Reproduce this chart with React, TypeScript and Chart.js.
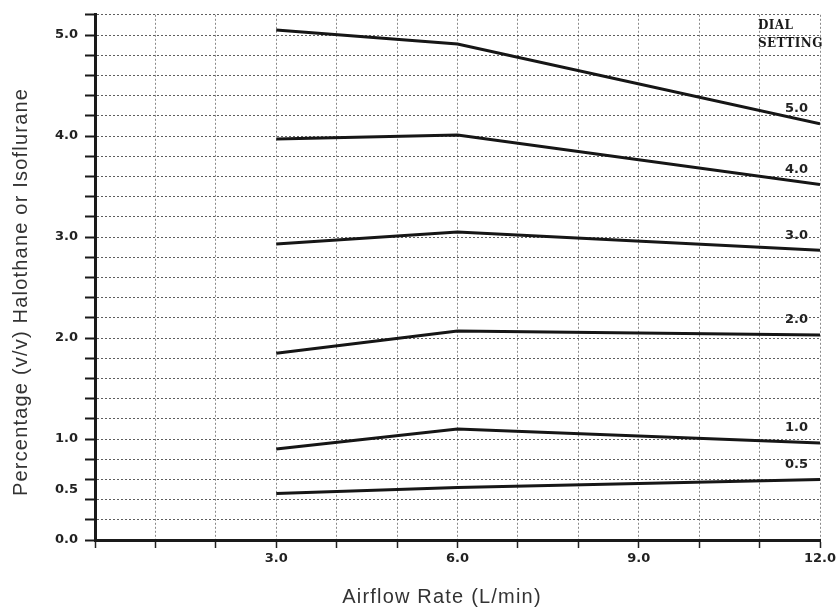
import React, { useEffect, useRef } from "react";
import { Chart, registerables } from "chart.js";

Chart.register(...registerables);

// Airflow rates (L/min) at which each dial-setting curve is read
const airflow = [3, 6, 12];

// Delivered concentration (% v/v) for each dial setting
const dialSettings = ["5.0", "4.0", "3.0", "2.0", "1.0", "0.5"];
const dial50 = [5.05, 4.91, 4.12];
const dial40 = [3.97, 4.01, 3.52];
const dial30 = [2.93, 3.05, 2.87];
const dial20 = [1.85, 2.07, 2.03];
const dial10 = [0.9, 1.1, 0.96];
const dial05 = [0.46, 0.52, 0.6];
const seriesValues = [dial50, dial40, dial30, dial20, dial10, dial05];

// Axis ticks
const xLabelledTicks = [3, 6, 9, 12];
const yLabelledTicks = [0, 0.5, 1, 2, 3, 4, 5];
const xMin = 0;
const xMax = 12;
const yMin = 0;
const yMax = 5.2;

const xTitle = "Airflow Rate (L/min)";
const yTitle = "Percentage (v/v) Halothane or Isoflurane";
const legendTitle = ["DIAL", "SETTING"];

const textPlugin = {
  id: "annotText",
  afterDraw(chart: any) {
    const ctx = chart.ctx as CanvasRenderingContext2D;
    const xs = chart.scales.x;
    const ys = chart.scales.y;
    const area = chart.chartArea;

    // dial setting labels above the right end of each curve
    ctx.save();
    ctx.font = 'bold 13px "DejaVu Sans", sans-serif';
    ctx.fillStyle = "#222";
    ctx.textAlign = "right";
    ctx.textBaseline = "middle";
    seriesValues.forEach((vals, i) => {
      const lastX = airflow[airflow.length - 1];
      const lastY = vals[vals.length - 1];
      const px = xs.getPixelForValue(lastX) - 12;
      const py = ys.getPixelForValue(lastY) - 15;
      ctx.fillText(dialSettings[i], px, py);
    });
    ctx.restore();

    // DIAL SETTING header
    ctx.save();
    ctx.font = 'bold 12px "DejaVu Serif", serif';
    ctx.fillStyle = "#1a1a1a";
    ctx.textAlign = "left";
    ctx.textBaseline = "middle";
    (ctx as any).letterSpacing = "0.4px";
    ctx.fillText(legendTitle[0], area.right - 62, area.top + 11);
    ctx.fillText(legendTitle[1], area.right - 62, area.top + 29);
    ctx.restore();

    // axis titles
    ctx.save();
    ctx.font = '20px "Liberation Sans", Arial, sans-serif';
    ctx.fillStyle = "#333";
    (ctx as any).letterSpacing = "1.2px";
    ctx.textAlign = "center";
    ctx.textBaseline = "alphabetic";
    ctx.fillText(xTitle, 442, 603);
    ctx.translate(27, 292);
    ctx.rotate(-Math.PI / 2);
    ctx.fillText(yTitle, 0, 0);
    ctx.restore();
  },
};

export default function App() {
  const canvasRef = useRef<HTMLCanvasElement | null>(null);

  useEffect(() => {
    const canvas = canvasRef.current;
    if (!canvas) return;

    const datasets = seriesValues.map((vals, i) => ({
      label: dialSettings[i],
      data: airflow.map((x, j) => ({ x, y: vals[j] })),
      borderColor: "#161616",
      backgroundColor: "#161616",
      borderWidth: 3,
      pointRadius: 0,
      tension: 0,
      fill: false,
    }));

    const isHalf = (v: number) => Math.abs(v - 0.5) < 1e-9;

    const chart = new Chart(canvas, {
      type: "line",
      data: { datasets },
      plugins: [textPlugin],
      options: {
        animation: false,
        responsive: false,
        maintainAspectRatio: false,
        layout: { padding: { left: 0, right: 20, top: 10, bottom: 0 } },
        plugins: {
          legend: { display: false },
          tooltip: { enabled: false },
          title: { display: false },
        },
        scales: {
          x: {
            type: "linear",
            min: xMin,
            max: xMax,
            afterFit(scale: any) {
              scale.height = 71;
            },
            ticks: {
              stepSize: 1,
              autoSkip: false,
              maxRotation: 0,
              padding: 3,
              color: "#222",
              font: { family: '"DejaVu Sans", sans-serif', size: 13, weight: "bold" },
              callback: (v: any) =>
                xLabelledTicks.includes(Number(v)) ? Number(v).toFixed(1) : "",
            },
            grid: {
              color: "rgba(60,60,60,0.6)",
              lineWidth: 1,
              tickLength: 8,
              tickColor: "#222",
              tickWidth: 1.5,
            },
            border: { display: true, color: "#1a1a1a", width: 3, dash: [2, 2] },
          },
          y: {
            type: "linear",
            min: yMin,
            max: yMax,
            afterFit(scale: any) {
              scale.width = 95;
            },
            afterBuildTicks(scale: any) {
              const t: any[] = [];
              for (let i = 0; i <= 26; i++) t.push({ value: (i * 2) / 10 });
              t.push({ value: 0.5 });
              t.sort((a, b) => a.value - b.value);
              scale.ticks = t;
            },
            ticks: {
              autoSkip: false,
              padding: 7,
              color: "#222",
              font: { family: '"DejaVu Sans", sans-serif', size: 13, weight: "bold" },
              callback: (v: any) =>
                yLabelledTicks.some((t) => Math.abs(t - Number(v)) < 1e-9)
                  ? Number(v).toFixed(1)
                  : "",
            },
            grid: {
              color: (c: any) =>
                c.tick && isHalf(c.tick.value) ? "rgba(0,0,0,0)" : "rgba(40,40,40,0.75)",
              lineWidth: 1,
              tickLength: 10,
              tickColor: (c: any) =>
                c.tick && isHalf(c.tick.value) ? "rgba(0,0,0,0)" : "#1a1a1a",
              tickWidth: 2,
            },
            border: { display: true, color: "#1a1a1a", width: 3, dash: [2, 2] },
          },
        },
      } as any,
    });

    return () => chart.destroy();
  }, []);

  return (
    <div
      style={{
        position: "fixed",
        left: 0,
        top: 0,
        width: 840,
        height: 611,
        background: "#fff",
      }}
    >
      <canvas ref={canvasRef} width={840} height={611} style={{ display: "block" }} />
    </div>
  );
}
